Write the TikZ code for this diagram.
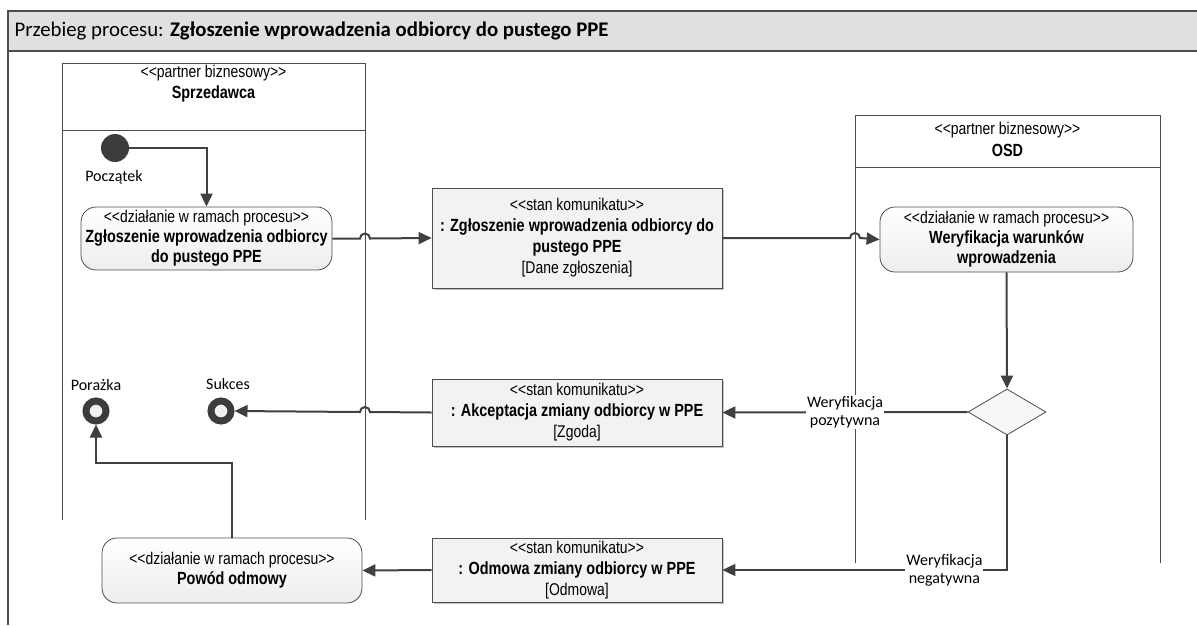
\documentclass[tikz,border=0pt]{standalone}
\usepackage{fontspec}
\setmainfont{Liberation Sans}[FakeStretch=0.82,Ligatures=TeXOff]
\newfontfamily\calibri{Carlito}
\usetikzlibrary{shapes.geometric,arrows.meta,shadows}
\definecolor{linia}{HTML}{404040}
\definecolor{ramka}{HTML}{4D4D4D}
\definecolor{naglowek}{HTML}{E0E0E0}
\definecolor{komunikat}{HTML}{F2F2F2}
\definecolor{kolko}{HTML}{3C3C3C}
\newcommand{\stereotyp}[1]{<{}<#1>{}>}
\newcommand{\pogrubiony}[1]{{\fontsize{17.6}{20}\selectfont\bfseries #1}}

\tikzset{
  tor/.style={draw=ramka,line width=1pt},
  akcja/.style={draw=ramka,line width=0.8pt,rounded corners=15pt,top color=white,bottom color=black!7,
    align=center,inner sep=2pt,font=\fontsize{17}{20}\selectfont},
  wiadomosc/.style={draw=ramka,line width=0.8pt,fill=komunikat,align=center,inner sep=2pt,
    drop shadow={shadow xshift=2pt,shadow yshift=-2pt,fill=black!40,opacity=0.6},
    font=\fontsize{17}{21}\selectfont},
  przeplyw/.style={draw=linia,line width=2pt,-{Triangle[length=13pt,width=12pt]}},
  koniec/.style={circle,draw=kolko,line width=7pt,fill=black!6,minimum size=20pt,inner sep=0},
  etykieta/.style={font=\calibri\fontsize{16}{18}\selectfont,align=center},
}

\begin{document}
\begin{tikzpicture}[x=1pt,y=-1pt]
\useasboundingbox (0,0) rectangle (1197,625);
\fill[naglowek] (8,11) rectangle (1197,51);
\draw[ramka,line width=1.6pt] (1197,11) -- (8,11) -- (8,625);
\draw[ramka,line width=1.6pt] (8,51) -- (1197,51);
\node[anchor=west,font=\calibri\fontsize{20.8}{24}\selectfont] (tytul) at (11,31)
  {Przebieg procesu: \textbf{Zgłoszenie wprowadzenia odbiorcy do pustego PPE}};

% tory
\draw[tor] (62,63) rectangle (365,130);
\draw[tor] (62,130) -- (62,520) (365,130) -- (365,520);
\node[align=center,font=\fontsize{17}{21}\selectfont] (sprzedawca) at (213.5,84)
  {\stereotyp{partner biznesowy}\\\pogrubiony{Sprzedawca}};
\draw[tor] (855,115) rectangle (1160,167);
\draw[tor] (855,167) -- (855,563) (1160,167) -- (1160,563);
\node[align=center,font=\fontsize{17}{22}\selectfont] (osd) at (1007.5,139)
  {\stereotyp{partner biznesowy}\\\pogrubiony{OSD}};

% wezly
\node[circle,fill=kolko,minimum size=28pt,inner sep=0] (start) at (115,148) {};
\node[etykieta] (startOpis) at (114,177) {Początek};
\node[akcja,minimum width=251pt,minimum height=63pt] (zgloszenie) at (206.5,238.5)
  {\stereotyp{działanie w ramach procesu}\\\pogrubiony{Zgłoszenie wprowadzenia odbiorcy}\\\pogrubiony{do pustego PPE}};
\node[wiadomosc,minimum width=290pt,minimum height=100pt] (daneZgl) at (577,238)
  {\stereotyp{stan komunikatu}\\\pogrubiony{: Zgłoszenie wprowadzenia odbiorcy do}\\\pogrubiony{pustego PPE}\\{}[Dane zgłoszenia]};
\node[akcja,minimum width=253pt,minimum height=65pt] (weryfikacja) at (1006.5,239.5)
  {\stereotyp{działanie w ramach procesu}\\\pogrubiony{Weryfikacja warunków}\\\pogrubiony{wprowadzenia}};
\node[diamond,draw=ramka,line width=0.8pt,fill=black!3,minimum width=78pt,minimum height=46pt,inner sep=0] (decyzja) at (1007,412) {};
\node[wiadomosc,minimum width=290pt,minimum height=67pt] (akceptacja) at (577,412.5)
  {\stereotyp{stan komunikatu}\\\pogrubiony{: Akceptacja zmiany odbiorcy w PPE}\\{}[Zgoda]};
\node[koniec] (sukces) at (221,411) {};
\node[etykieta] (sukcesOpis) at (228,384) {Sukces};
\node[koniec] (porazka) at (96,411) {};
\node[etykieta] (porazkaOpis) at (96,385) {Porażka};
\node[wiadomosc,minimum width=290pt,minimum height=64pt] (odmowa) at (577,570)
  {\stereotyp{stan komunikatu}\\\pogrubiony{: Odmowa zmiany odbiorcy w PPE}\\{}[Odmowa]};
\node[akcja,minimum width=260pt,minimum height=65pt] (powod) at (232,570.5)
  {\stereotyp{działanie w ramach procesu}\\\pogrubiony{Powód odmowy}};

% przeplywy
\draw[przeplyw] (start.east) -| (zgloszenie.north);
\draw[przeplyw] (zgloszenie.east) -- (360,238.5) arc[start angle=180,end angle=360,radius=5] -- (daneZgl.west);
\draw[przeplyw] (daneZgl.east) -- (850,238) arc[start angle=180,end angle=360,radius=5] -- (weryfikacja.west);
\draw[przeplyw] (weryfikacja.south) -- (decyzja.north);
\draw[przeplyw] (decyzja.west) -- node[etykieta,fill=white,inner sep=1pt] {Weryfikacja\\pozytywna} (akceptacja.east);
\draw[przeplyw] (akceptacja.west) -- (370,412) arc[start angle=0,end angle=-180,radius=5] -- (sukces.east);
\draw[przeplyw] (decyzja.south) |- node[etykieta,fill=white,inner sep=1pt,pos=0.61] {Weryfikacja\\negatywna} (odmowa.east);
\draw[przeplyw] (odmowa.west) -- (powod.east);
\draw[przeplyw] (powod.north) -- ++(0,-75) -| (porazka.south);
\end{tikzpicture}
\end{document}
